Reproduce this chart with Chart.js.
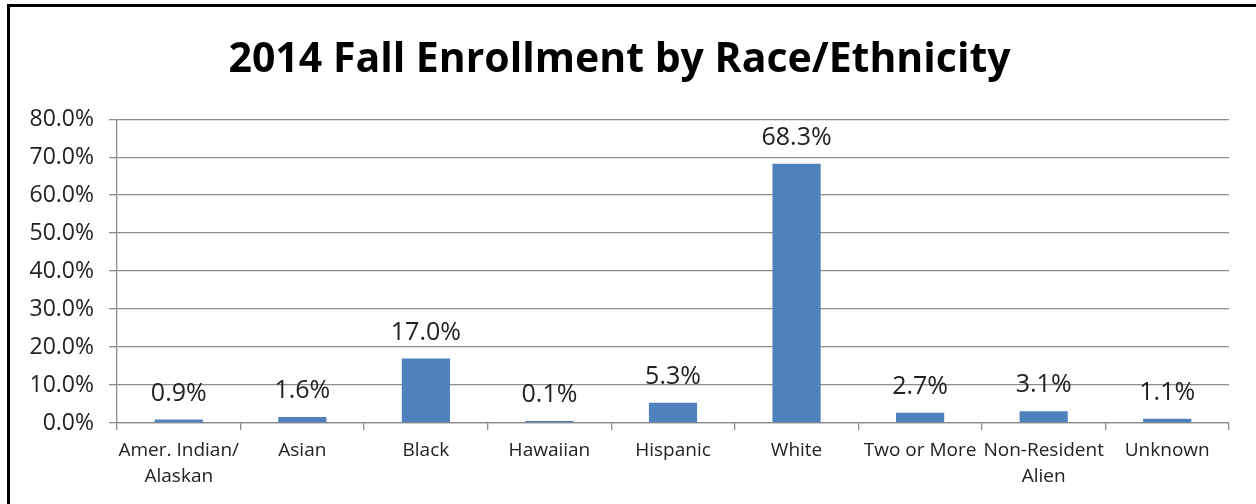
<!DOCTYPE html>
<html>
<head>
<meta charset="utf-8">
<script src="https://cdn.jsdelivr.net/npm/chart.js@4/dist/chart.umd.min.js"></script>
<style>
  html, body { margin: 0; padding: 0; background: #fff; }
  #wrap { position: relative; width: 1256px; height: 504px; }
  #frame { position: absolute; left: 7px; top: 4px; right: 0; bottom: 0;
           border-left: 3px solid #000; border-top: 3px solid #000; }
</style>
</head>
<body>
<div id="wrap">
  <div id="frame"></div>
  <canvas id="myChart" width="1256" height="504"></canvas>
</div>
<script>
// ///////////// chart data
const categories = [["Amer. Indian/", "Alaskan"], "Asian", "Black", "Hawaiian", "Hispanic", "White", "Two or More", ["Non-Resident", "Alien"], "Unknown"];
const enrollment = [0.9, 1.6, 17.0, 0.1, 5.3, 68.3, 2.7, 3.1, 1.1];
const yTicks = [0, 10, 20, 30, 40, 50, 60, 70, 80];

const FONT = "'Open Sans', sans-serif";

// ///////////// labels over the bars
const barLabels = {
    id: 'barLabels',
    afterDatasetsDraw(chart) {
        const ctx = chart.ctx;
        const meta = chart.getDatasetMeta(0);
        ctx.save();
        ctx.font = '25px ' + FONT;
        ctx.fillStyle = '#222';
        ctx.textAlign = 'center';
        ctx.textBaseline = 'middle';
        meta.data.forEach((bar, i) => {
            ctx.fillText(enrollment[i].toFixed(1) + '%', bar.x, bar.y - 26);
        });
        ctx.restore();
    }
};

var ctx = document.getElementById('myChart').getContext('2d');
var myChart = new Chart(ctx, {
    type: 'bar',
    data: {
        labels: categories,
        datasets: [{
            data: enrollment,
            backgroundColor: '#4F81BD',
            barPercentage: 0.78,
            categoryPercentage: 0.5,
            minBarLength: 2
        }]
    },
    options: {
        responsive: false,
        animation: false,
        layout: { padding: { left: 10, right: 27, top: 10, bottom: 0 } },
        plugins: {
            legend: { display: false },
            tooltip: { enabled: false },
            title: {
                display: true,
                text: '2014 Fall Enrollment by Race/Ethnicity',
                color: '#000',
                font: { family: FONT, size: 41, weight: 'bold', lineHeight: 1.2 },
                padding: { top: 26, bottom: 34 }
            }
        },
        scales: {
            y: {
                min: 0,
                max: 80,
                afterBuildTicks: (scale) => { scale.ticks = yTicks.map(v => ({ value: v })); },
                afterFit: (scale) => { scale.width = 107; },
                ticks: {
                    color: '#222',
                    padding: 15,
                    font: { family: FONT, size: 23 },
                    callback: (v) => v.toFixed(1) + '%'
                },
                grid: { color: '#8c8c8c', lineWidth: 1.3, tickLength: 8 },
                border: { color: '#8c8c8c', width: 1.3 }
            },
            x: {
                afterFit: (scale) => { scale.height = 81; },
                ticks: {
                    color: '#222',
                    padding: 7,
                    maxRotation: 0,
                    autoSkip: false,
                    font: { family: FONT, size: 19, lineHeight: 1.4 }
                },
                grid: { drawOnChartArea: false, color: '#8c8c8c', lineWidth: 1.3, tickLength: 7 },
                border: { color: '#8c8c8c', width: 1.3 }
            }
        }
    },
    plugins: [barLabels]
});
</script>
</body>
</html>
